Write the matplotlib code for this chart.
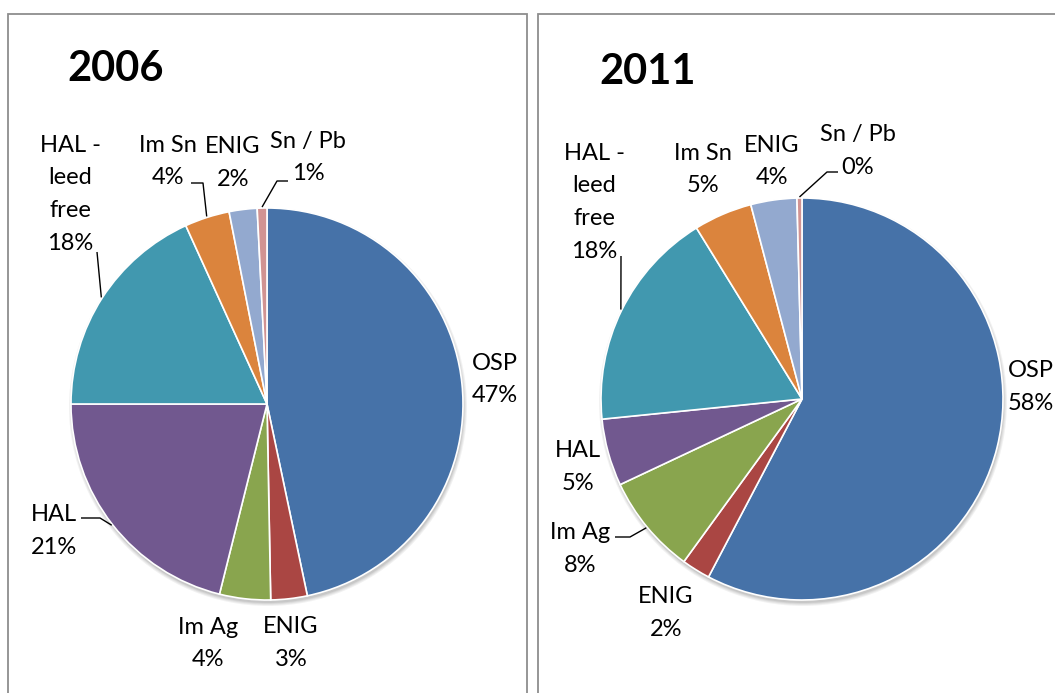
import matplotlib
matplotlib.use("Agg")
import matplotlib.pyplot as plt
from matplotlib.patches import Rectangle, Circle
import numpy as np

# ---------------- data ----------------
categories = ["OSP", "ENIG", "Im Ag", "HAL", "HAL -\nleed\nfree", "Im Sn", "ENIG", "Sn / Pb"]
titles = ["2006", "2011"]
values_2006 = [46.7, 3.0, 4.2, 21.1, 18.2, 3.7, 2.3, 0.8]
values_2011 = [57.7, 2.3, 8.0, 5.4, 17.8, 4.7, 3.7, 0.4]

# ---------------- style / layout ----------------
colors = ["#4672A8", "#AA4643", "#89A54E", "#71588F", "#4198AF", "#DB843D", "#93A9CF", "#D19392"]
W, H = 1055, 693
FONT = "Lato"
LINE_STEP = 32.5  # pixels between label baselines

# pie geometry in pixels (center x, center y from top, radius)
pie_geom = [(267, 404, 196), (802, 399, 201)]
# title position (left x, baseline y)
title_pos = [(67, 81), (599, 84)]
# label anchor: (center x, first-line baseline y)
label_pos = [
    [(495, 370), (291, 633), (208, 634), (54, 521), (70, 152), (168, 152), (233, 153), (308, 148)],
    [(1031, 377), (666, 603), (580, 539), (578, 457), (594, 160), (703, 160), (772, 152), (858, 141)],
]
# leader lines: start / elbow points (pixels), the end is on the slice rim
leaders = [
    {3: [(81, 518), (100, 518)], 4: [(97, 252)], 5: [(191, 183), (203, 183)], 7: [(288, 181), (277, 181)]},
    {2: [(615, 537), (630, 537)], 4: [(621, 256)], 7: [(838, 172), (827, 172)]},
]
# chart boxes (left, top, right, bottom) pixels
boxes = [(8, 14, 527, 720), (538, 14, 1080, 720)]


def Y(py):
    return H - py


fig = plt.figure(figsize=(W / 100, H / 100), dpi=100)
fig.patch.set_facecolor("white")
ax = fig.add_axes([0, 0, 1, 1])

for (l, t, r, b) in boxes:
    ax.add_patch(Rectangle((l, Y(b)), r - l, b - t, fill=False, edgecolor="#8e8e8e",
                           linewidth=1.3, zorder=0))

all_values = [values_2006, values_2011]
for k, vals in enumerate(all_values):
    cx, cy, rad = pie_geom[k]
    # soft shadow
    for i, a in enumerate([0.05, 0.05, 0.06, 0.07]):
        ax.add_patch(Circle((cx + 1, Y(cy) - 3), rad + 3 - i, facecolor="black",
                            edgecolor="none", alpha=a, zorder=1))
    wedges, _ = ax.pie(vals, colors=colors, startangle=90, counterclock=False,
                       center=(cx, Y(cy)), radius=rad, frame=True,
                       wedgeprops=dict(edgecolor="white", linewidth=1.2, zorder=2))
    # title
    tx, ty = title_pos[k]
    ax.text(tx, Y(ty), titles[k], fontsize=30, fontweight="bold", family=FONT,
            ha="left", va="baseline", color="black", zorder=5)
    # labels
    for i, (cat, v) in enumerate(zip(categories, vals)):
        lx, ly = label_pos[k][i]
        lines = cat.split("\n") + [f"{round(v):d}%"]
        for j, line in enumerate(lines):
            ax.text(lx, Y(ly + j * LINE_STEP), line, fontsize=17, family=FONT,
                    ha="center", va="baseline", color="black", zorder=5)
        if i in leaders[k]:
            w = wedges[i]
            mid = np.deg2rad((w.theta1 + w.theta2) / 2)
            ex = cx + (rad + 1) * np.cos(mid)
            ey = Y(cy) + (rad + 1) * np.sin(mid)
            pts = [(px, Y(py)) for px, py in leaders[k][i]] + [(ex, ey)]
            xs, ys = zip(*pts)
            ax.plot(xs, ys, color="black", linewidth=1.0, zorder=4, solid_capstyle="butt")

ax.set_xlim(0, W)
ax.set_ylim(0, H)
ax.set_aspect("auto")
ax.axis("off")

fig.savefig("out.png", dpi=100, facecolor="white")
